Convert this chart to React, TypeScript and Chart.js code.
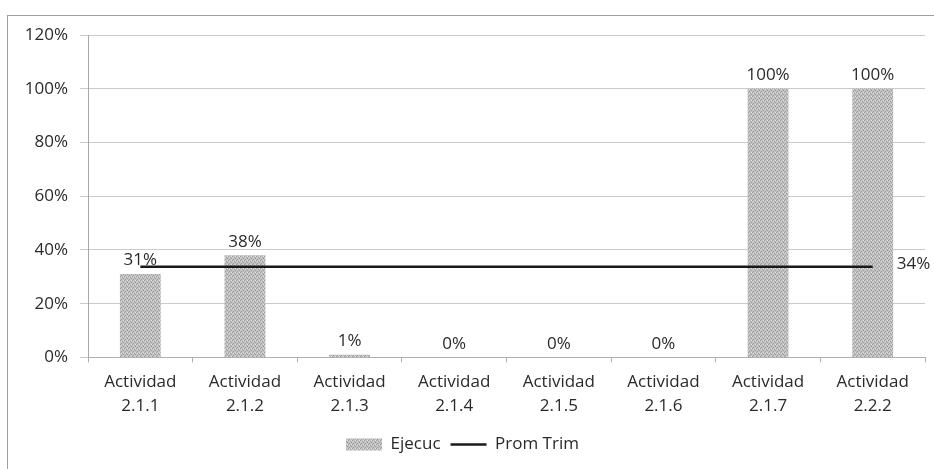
import React, { useEffect, useRef } from "react";
import { Chart, registerables } from "chart.js";

Chart.register(...registerables);

const categories: string[][] = [
  ["Actividad", "2.1.1"],
  ["Actividad", "2.1.2"],
  ["Actividad", "2.1.3"],
  ["Actividad", "2.1.4"],
  ["Actividad", "2.1.5"],
  ["Actividad", "2.1.6"],
  ["Actividad", "2.1.7"],
  ["Actividad", "2.2.2"],
];
const ejecuc: number[] = [31, 38, 1, 0, 0, 0, 100, 100];
const promTrim: number[] = [33.75, 33.75, 33.75, 33.75, 33.75, 33.75, 33.75, 33.75];
const yTicks: number[] = [0, 20, 40, 60, 80, 100, 120];

const FONT = "'Open Sans', 'DejaVu Sans', sans-serif";
const TEXT = "#2a2a2a";
const FS = 17;

function makePattern(): CanvasPattern | string {
  const c = document.createElement("canvas");
  c.width = 4;
  c.height = 4;
  const g = c.getContext("2d");
  if (!g) return "#bdbdbd";
  g.fillStyle = "#c2c2c2";
  g.fillRect(0, 0, 4, 4);
  g.fillStyle = "#9c9c9c";
  g.fillRect(0, 0, 1, 1);
  g.fillRect(2, 1, 1, 1);
  g.fillRect(1, 3, 1, 1);
  g.fillRect(3, 2, 1, 1);
  g.fillStyle = "#dedede";
  g.fillRect(1, 1, 1, 1);
  g.fillRect(3, 0, 1, 1);
  const p = g.createPattern(c, "repeat");
  return p || "#bdbdbd";
}

const labelPlugin = {
  id: "valueLabels",
  afterDatasetsDraw(chart: any) {
    const ctx = chart.ctx;
    ctx.save();
    ctx.font = `${FS}px ${FONT}`;
    ctx.fillStyle = TEXT;
    const barMeta = chart.getDatasetMeta(0);
    barMeta.data.forEach((el: any, i: number) => {
      ctx.textAlign = "center";
      ctx.textBaseline = "bottom";
      ctx.fillText(`${ejecuc[i]}%`, el.x, el.y - 5);
    });
    const lineMeta = chart.getDatasetMeta(1);
    const last = lineMeta.data[lineMeta.data.length - 1];
    if (last) {
      ctx.textAlign = "left";
      ctx.textBaseline = "middle";
      ctx.fillText(`${Math.round(promTrim[promTrim.length - 1])}%`, last.x + 24, last.y - 3);
    }
    ctx.restore();
  },
};

export default function App() {
  const ref = useRef<HTMLCanvasElement | null>(null);

  useEffect(() => {
    if (!ref.current) return;
    const pattern = makePattern();
    const chart = new Chart(ref.current, {
      type: "bar",
      data: {
        labels: categories,
        datasets: [
          {
            type: "bar",
            label: "Ejecuc",
            data: ejecuc,
            backgroundColor: pattern as any,
            borderWidth: 0,
            barPercentage: 0.5,
            categoryPercentage: 0.78,
            order: 2,
          },
          {
            type: "line",
            label: "Prom Trim",
            data: promTrim,
            borderColor: "#1a1a1a",
            backgroundColor: "#1a1a1a",
            borderWidth: 2.5,
            pointRadius: 0,
            order: 1,
          },
        ],
      },
      options: {
        animation: false,
        responsive: false,
        maintainAspectRatio: false,
        layout: { padding: { top: 35, right: 9, left: 0, bottom: 6 } },
        plugins: {
          tooltip: { enabled: false },
          legend: {
            position: "bottom",
            labels: {
              font: { family: FONT, size: FS },
              color: TEXT,
              usePointStyle: true,
              pointStyleWidth: 36,
              boxHeight: 12,
              padding: 10,
              sort: (a: any, b: any) => a.datasetIndex - b.datasetIndex,
              generateLabels(chart: any) {
                const items = Chart.defaults.plugins.legend.labels.generateLabels(chart);
                return items.map((it: any) => {
                  if (it.datasetIndex === 0) {
                    return { ...it, pointStyle: "rect", fillStyle: pattern, strokeStyle: "rgba(0,0,0,0)", lineWidth: 0 };
                  }
                  return { ...it, pointStyle: "line", strokeStyle: "#1a1a1a", lineWidth: 2.5 };
                });
              },
            },
          },
        },
        scales: {
          x: {
            offset: true,
            grid: {
              display: true,
              drawOnChartArea: false,
              drawTicks: true,
              tickLength: 5,
              color: "#b0b0b0",
            },
            border: { display: true, color: "#b0b0b0" },
            ticks: {
              font: { family: FONT, size: FS, lineHeight: 1.4 },
              color: TEXT,
              padding: 8,
              maxRotation: 0,
              autoSkip: false,
            },
          },
          y: {
            min: 0,
            max: 120,
            afterFit(scale: any) {
              scale.width = 88;
            },
            afterBuildTicks(scale: any) {
              scale.ticks = yTicks.map((v) => ({ value: v }));
            },
            grid: {
              color: "#cacaca",
              tickLength: 8,
              drawTicks: true,
            },
            border: { display: true, color: "#a8a8a8" },
            ticks: {
              font: { family: FONT, size: FS },
              color: TEXT,
              padding: 12,
              callback: (v: any) => `${v}%`,
            },
          },
        },
      },
      plugins: [labelPlugin],
    });
    return () => chart.destroy();
  }, []);

  return (
    <div style={{ position: "fixed", left: 0, top: 0, width: 934, height: 469, background: "#fff", overflow: "hidden" }}>
      <div
        style={{
          position: "absolute",
          left: 7,
          top: 15,
          width: 940,
          height: 470,
          borderLeft: "1px solid #a0a0a0",
          borderTop: "1px solid #a0a0a0",
        }}
      />
      <canvas ref={ref} width={934} height={469} style={{ position: "absolute", left: 0, top: 0 }} />
    </div>
  );
}
